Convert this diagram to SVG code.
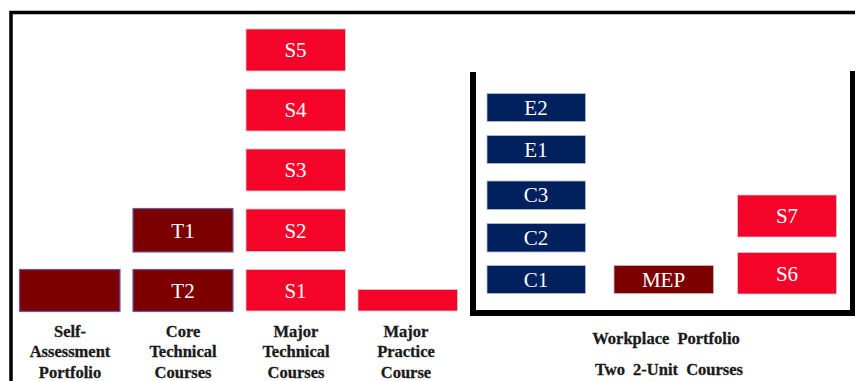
<svg xmlns="http://www.w3.org/2000/svg" width="855" height="381" viewBox="0 0 855 381">
  <style>
    .red { fill: #f5042a; stroke: #d8c8cc; stroke-width: 0.8; }
    .maroon { fill: #7d0000; stroke: #6a5aa8; stroke-width: 1.2; }
    .mep { fill: #7d0000; stroke: #c8b8b8; stroke-width: 0.8; }
    .navy { fill: #00205e; stroke: #b8bccc; stroke-width: 0.8; }
    .lbl { font-family: "Liberation Serif", "Times New Roman", serif; font-size: 21px; fill: #ffffff; text-anchor: middle; }
    .cap { font-family: "Liberation Serif", "Times New Roman", serif; font-size: 16.5px; font-weight: bold; fill: #1a1a1a; text-anchor: middle; stroke: #1a1a1a; stroke-width: 0.3; }
    .frame { fill: none; stroke: #000000; }
  </style>

  <rect width="855" height="381" fill="#ffffff"/>

  <!-- outer frame (top and left edges) -->
  <g id="frame">
    <path class="frame" d="M11 381 V12.5 H855" stroke-width="3.5"/>
  </g>

  <!-- workplace bracket -->
  <g id="workplace-bracket">
    <path class="frame" d="M473 72 V313 H853 V71" stroke-width="6"/>
  </g>

  <g id="self-assessment">
    <rect class="maroon" x="19.5" y="269.5" width="100.5" height="42"/>
  </g>

  <g id="T1">
    <rect class="maroon" x="133" y="208.5" width="100" height="43.5"/>
    <text class="lbl" x="183" y="238">T1</text>
  </g>
  <g id="T2">
    <rect class="maroon" x="133" y="269.5" width="100" height="42"/>
    <text class="lbl" x="183" y="298">T2</text>
  </g>

  <g id="S5">
    <rect class="red" x="246" y="29" width="99.5" height="42"/>
    <text class="lbl" x="295.5" y="57">S5</text>
  </g>
  <g id="S4">
    <rect class="red" x="246" y="89" width="99.5" height="42"/>
    <text class="lbl" x="295.5" y="117">S4</text>
  </g>
  <g id="S3">
    <rect class="red" x="246" y="149" width="99.5" height="42"/>
    <text class="lbl" x="295.5" y="177">S3</text>
  </g>
  <g id="S2">
    <rect class="red" x="246" y="209" width="99.5" height="42.5"/>
    <text class="lbl" x="295.5" y="237.5">S2</text>
  </g>
  <g id="S1">
    <rect class="red" x="246" y="269.5" width="99.5" height="41.5"/>
    <text class="lbl" x="295.5" y="297.5">S1</text>
  </g>

  <g id="major-practice">
    <rect class="red" x="358" y="289.5" width="99.5" height="21.5"/>
  </g>

  <g id="E2">
    <rect class="navy" x="487" y="93.5" width="98.5" height="28"/>
    <text class="lbl" x="536" y="114.5">E2</text>
  </g>
  <g id="E1">
    <rect class="navy" x="487" y="135.5" width="98.5" height="28"/>
    <text class="lbl" x="536" y="156.5">E1</text>
  </g>
  <g id="C3">
    <rect class="navy" x="487" y="181" width="98.5" height="28.5"/>
    <text class="lbl" x="536" y="202">C3</text>
  </g>
  <g id="C2">
    <rect class="navy" x="487" y="223.5" width="98.5" height="28.5"/>
    <text class="lbl" x="536" y="244.5">C2</text>
  </g>
  <g id="C1">
    <rect class="navy" x="487" y="265.5" width="98.5" height="28"/>
    <text class="lbl" x="536" y="286.5">C1</text>
  </g>
  <g id="MEP">
    <rect class="mep" x="614" y="265.5" width="99.5" height="28"/>
    <text class="lbl" x="663.5" y="286.5">MEP</text>
  </g>
  <g id="S7">
    <rect class="red" x="737.5" y="195" width="99" height="42"/>
    <text class="lbl" x="787" y="223">S7</text>
  </g>
  <g id="S6">
    <rect class="red" x="737.5" y="252.5" width="99" height="41.5"/>
    <text class="lbl" x="787" y="280.5">S6</text>
  </g>

  <!-- column captions -->
  <g id="captions">
    <text class="cap" x="70" y="337">Self-</text>
    <text class="cap" x="70" y="357">Assessment</text>
    <text class="cap" x="70" y="378">Portfolio</text>

    <text class="cap" x="183" y="337">Core</text>
    <text class="cap" x="183" y="357">Technical</text>
    <text class="cap" x="183" y="378">Courses</text>

    <text class="cap" x="296" y="337">Major</text>
    <text class="cap" x="296" y="357">Technical</text>
    <text class="cap" x="296" y="378">Courses</text>

    <text class="cap" x="406" y="337">Major</text>
    <text class="cap" x="406" y="357">Practice</text>
    <text class="cap" x="406" y="378">Course</text>

    <text class="cap" x="666" y="343.5" word-spacing="4">Workplace Portfolio</text>
    <text class="cap" x="669" y="375" word-spacing="4">Two 2-Unit Courses</text>
  </g>
</svg>
